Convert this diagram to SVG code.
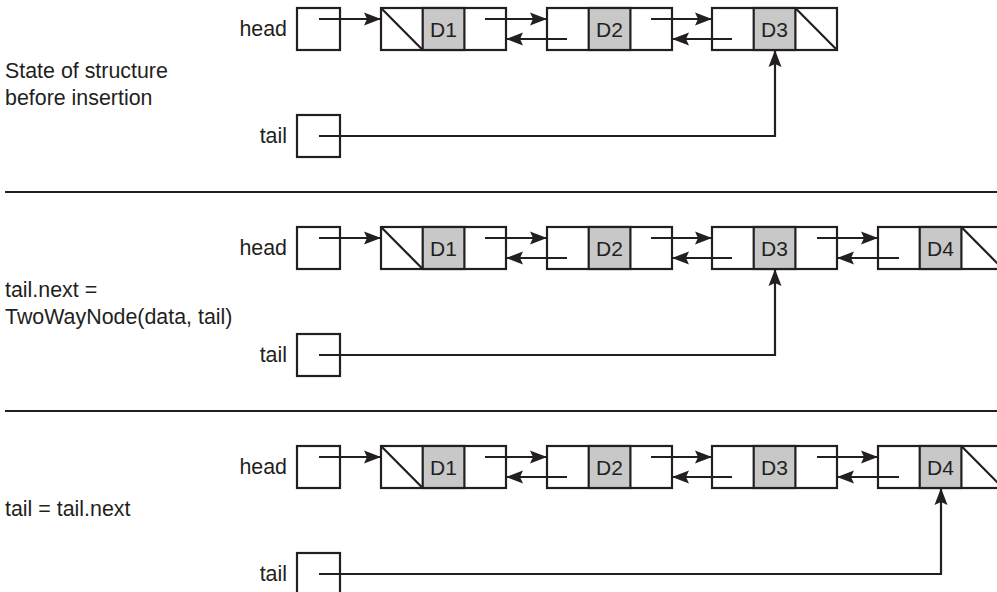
<svg xmlns="http://www.w3.org/2000/svg" width="997" height="592" viewBox="0 0 997 592">
<style>
  .bx{fill:#fff;stroke:#231f20;stroke-width:2.2}
  .dt{fill:#c8c8c8;stroke:#231f20;stroke-width:2.2}
  .ln{fill:none;stroke:#231f20;stroke-width:2.2}
  .ar{fill:none;stroke:#231f20;stroke-width:2.2;marker-end:url(#ah)}
  text{font-family:"Liberation Sans",Arial,sans-serif;font-size:21.4px;fill:#231f20}
  .lb{text-anchor:end}
  .dl{text-anchor:middle;font-size:21px}
</style>
<defs>
  <marker id="ah" markerUnits="userSpaceOnUse" markerWidth="22" markerHeight="16" refX="17" refY="6.5" orient="auto" overflow="visible">
    <path d="M0,0 L17,6.5 L0,13 L3,6.5 z" fill="#231f20"/>
  </marker>
</defs>
<rect width="997" height="592" fill="#fff"/>

<!-- separators -->
<g id="separators">
  <line class="ln" x1="5" y1="192" x2="997" y2="192"/>
  <line class="ln" x1="5" y1="411" x2="997" y2="411"/>
</g>

<!-- captions -->
<g id="captions">
  <text x="5" y="78">State of structure</text>
  <text x="5" y="105">before insertion</text>
  <text x="5" y="297">tail.next =</text>
  <text x="5" y="324">TwoWayNode(data, tail)</text>
  <text x="5" y="516">tail = tail.next</text>
</g>

<!-- ========== Section 1 ========== -->
<g id="s1-head"><text class="lb" x="287" y="36">head</text><rect class="bx" x="297" y="8" width="43" height="42"/></g>
<g id="s1-tail"><text class="lb" x="287" y="143">tail</text><rect class="bx" x="297" y="115" width="43" height="42"/></g>
<g id="s1-n1">
  <rect class="bx" x="381" y="8" width="125" height="42"/>
  <rect class="dt" x="422.7" y="8" width="41.7" height="42"/>
  <line class="ln" x1="381" y1="8" x2="422.7" y2="50"/>
  <text class="dl" x="443.5" y="36.5">D1</text>
</g>
<g id="s1-n2">
  <rect class="bx" x="547" y="8" width="125" height="42"/>
  <rect class="dt" x="588.7" y="8" width="41.7" height="42"/>
  <text class="dl" x="609.5" y="36.5">D2</text>
</g>
<g id="s1-n3">
  <rect class="bx" x="712" y="8" width="125" height="42"/>
  <rect class="dt" x="753.7" y="8" width="41.7" height="42"/>
  <line class="ln" x1="795.3" y1="8" x2="837" y2="50"/>
  <text class="dl" x="774.5" y="36.5">D3</text>
</g>

<!-- ========== Section 2 ========== -->
<g id="s2-head"><text class="lb" x="287" y="255">head</text><rect class="bx" x="297" y="227" width="43" height="42"/></g>
<g id="s2-tail"><text class="lb" x="287" y="362">tail</text><rect class="bx" x="297" y="334" width="43" height="42"/></g>
<g id="s2-n1">
  <rect class="bx" x="381" y="227" width="125" height="42"/>
  <rect class="dt" x="422.7" y="227" width="41.7" height="42"/>
  <line class="ln" x1="381" y1="227" x2="422.7" y2="269"/>
  <text class="dl" x="443.5" y="255.5">D1</text>
</g>
<g id="s2-n2">
  <rect class="bx" x="547" y="227" width="125" height="42"/>
  <rect class="dt" x="588.7" y="227" width="41.7" height="42"/>
  <text class="dl" x="609.5" y="255.5">D2</text>
</g>
<g id="s2-n3">
  <rect class="bx" x="712" y="227" width="125" height="42"/>
  <rect class="dt" x="753.7" y="227" width="41.7" height="42"/>
  <text class="dl" x="774.5" y="255.5">D3</text>
</g>
<g id="s2-n4">
  <rect class="bx" x="878" y="227" width="125" height="42"/>
  <rect class="dt" x="919.7" y="227" width="41.7" height="42"/>
  <line class="ln" x1="961.3" y1="227" x2="1003" y2="269"/>
  <text class="dl" x="940.5" y="255.5">D4</text>
</g>

<!-- ========== Section 3 ========== -->
<g id="s3-head"><text class="lb" x="287" y="474">head</text><rect class="bx" x="297" y="446" width="43" height="42"/></g>
<g id="s3-tail"><text class="lb" x="287" y="581">tail</text><rect class="bx" x="297" y="553" width="43" height="42"/></g>
<g id="s3-n1">
  <rect class="bx" x="381" y="446" width="125" height="42"/>
  <rect class="dt" x="422.7" y="446" width="41.7" height="42"/>
  <line class="ln" x1="381" y1="446" x2="422.7" y2="488"/>
  <text class="dl" x="443.5" y="474.5">D1</text>
</g>
<g id="s3-n2">
  <rect class="bx" x="547" y="446" width="125" height="42"/>
  <rect class="dt" x="588.7" y="446" width="41.7" height="42"/>
  <text class="dl" x="609.5" y="474.5">D2</text>
</g>
<g id="s3-n3">
  <rect class="bx" x="712" y="446" width="125" height="42"/>
  <rect class="dt" x="753.7" y="446" width="41.7" height="42"/>
  <text class="dl" x="774.5" y="474.5">D3</text>
</g>
<g id="s3-n4">
  <rect class="bx" x="878" y="446" width="125" height="42"/>
  <rect class="dt" x="919.7" y="446" width="41.7" height="42"/>
  <line class="ln" x1="961.3" y1="446" x2="1003" y2="488"/>
  <text class="dl" x="940.5" y="474.5">D4</text>
</g>

<!-- ========== Connectors ========== -->
<g id="connectors">
  <!-- section 1 -->
  <path class="ar" d="M319,19 H381"/>
  <path class="ar" d="M485,19 H547"/>
  <path class="ar" d="M567,39 H506"/>
  <path class="ar" d="M651,19 H712"/>
  <path class="ar" d="M732,39 H672"/>
  <path class="ar" d="M319,136 H775 V50"/>
  <!-- section 2 -->
  <path class="ar" d="M319,238 H381"/>
  <path class="ar" d="M485,238 H547"/>
  <path class="ar" d="M567,258 H506"/>
  <path class="ar" d="M651,238 H712"/>
  <path class="ar" d="M732,258 H672"/>
  <path class="ar" d="M817,238 H878"/>
  <path class="ar" d="M899,258 H837"/>
  <path class="ar" d="M319,355 H775 V269"/>
  <!-- section 3 -->
  <path class="ar" d="M319,457 H381"/>
  <path class="ar" d="M485,457 H547"/>
  <path class="ar" d="M567,477 H506"/>
  <path class="ar" d="M651,457 H712"/>
  <path class="ar" d="M732,477 H672"/>
  <path class="ar" d="M817,457 H878"/>
  <path class="ar" d="M899,477 H837"/>
  <path class="ar" d="M319,574 H941 V488"/>
</g>
</svg>
